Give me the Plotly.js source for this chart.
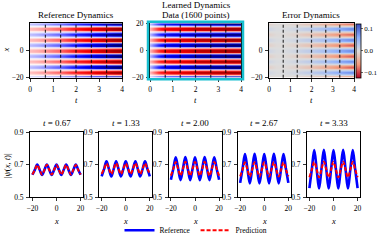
<!DOCTYPE html>
<html><head><meta charset="utf-8">
<script src="https://cdn.plot.ly/plotly-3.0.1.min.js"></script>
<style>html,body{margin:0;padding:0;background:#fff}#chart{width:382px;height:245px}</style>
</head><body><div id="chart"></div>
<script>
// ---- data ----
const snapTimes = [0.67, 1.33, 2.00, 2.67, 3.33];
const xLine = [-20,-18,-16,-14,-12,-10,-8,-6,-4,-2,0,2,4,6,8,10,12,14,16,18,20];
const ref067  = [0.638,0.668,0.700,0.669,0.637,0.668,0.701,0.669,0.637,0.668,0.700,0.668,0.637,0.669,0.701,0.668,0.637,0.668,0.700,0.669,0.638];
const pred067 = [0.640,0.668,0.698,0.669,0.639,0.668,0.699,0.668,0.639,0.668,0.698,0.668,0.639,0.668,0.699,0.668,0.639,0.668,0.698,0.668,0.640];
const ref133  = [0.628,0.673,0.720,0.674,0.627,0.673,0.721,0.673,0.627,0.673,0.720,0.673,0.627,0.674,0.721,0.673,0.627,0.673,0.720,0.673,0.628];
const pred133 = [0.643,0.675,0.708,0.675,0.642,0.675,0.709,0.675,0.642,0.675,0.708,0.675,0.642,0.675,0.709,0.675,0.642,0.675,0.708,0.675,0.643];
const ref200  = [0.607,0.675,0.745,0.676,0.605,0.675,0.746,0.675,0.605,0.675,0.745,0.675,0.605,0.676,0.746,0.675,0.605,0.675,0.745,0.675,0.607];
const pred200 = [0.633,0.675,0.717,0.675,0.632,0.675,0.718,0.675,0.632,0.675,0.717,0.675,0.632,0.675,0.718,0.675,0.632,0.675,0.717,0.675,0.633];
const ref267  = [0.588,0.675,0.765,0.676,0.585,0.675,0.766,0.675,0.585,0.675,0.765,0.675,0.585,0.676,0.766,0.675,0.585,0.675,0.765,0.675,0.588];
const pred267 = [0.628,0.670,0.714,0.671,0.627,0.670,0.715,0.670,0.627,0.670,0.714,0.670,0.627,0.671,0.715,0.670,0.627,0.670,0.714,0.670,0.628];
const ref333  = [0.556,0.672,0.790,0.673,0.553,0.672,0.791,0.672,0.553,0.672,0.790,0.672,0.553,0.673,0.791,0.672,0.553,0.672,0.790,0.672,0.556];
const pred333 = [0.623,0.670,0.717,0.671,0.622,0.670,0.718,0.670,0.622,0.670,0.717,0.670,0.622,0.671,0.718,0.670,0.622,0.670,0.717,0.670,0.623];

// heatmaps: time grid, wave amplitude per time column, one spatial period of the stripe profile
const tHeat = [0, 0.333, 0.667, 1.0, 1.333, 1.667, 2.0, 2.333, 2.667, 3.0, 3.333, 3.667, 4.0];
const refAmp  = [0.020, 0.025, 0.032, 0.040, 0.047, 0.058, 0.070, 0.080, 0.090, 0.103, 0.118, 0.130, 0.140];
const predAmp = [0.008, 0.022, 0.030, 0.033, 0.034, 0.037, 0.042, 0.043, 0.044, 0.045, 0.047, 0.048, 0.048];
const meanLevel = 0.67;
const periodProfile = [-1, -0.71, 0, 0.71, 1, 0.71, 0, -0.71]; // x = -20 ... -13
const xHeat = []; for (let v = -20; v <= 20; v++) xHeat.push(v);

const refZ = xHeat.map((v, i) => refAmp.map(a => meanLevel + a * periodProfile[i % 8]));
const predZ = xHeat.map((v, i) => predAmp.map(a => meanLevel + a * periodProfile[i % 8]));
const errZ = refZ.map((row, i) => row.map((r, j) => r - predZ[i][j]));

const refSeries = [ref067, ref133, ref200, ref267, ref333];
const predSeries = [pred067, pred133, pred200, pred267, pred333];

// ---- styling ----
const FONT = 'Liberation Serif';
const seismic = [[0,'rgb(0,0,77)'],[0.25,'rgb(0,0,255)'],[0.5,'rgb(255,255,255)'],[0.75,'rgb(255,0,0)'],[1,'rgb(128,0,0)']];
const coolwarmR = [[0,'rgb(180,4,38)'],[0.25,'rgb(244,154,123)'],[0.5,'rgb(221,221,221)'],[0.75,'rgb(141,176,254)'],[1,'rgb(59,76,192)']];

const W = 382, H = 245;
const px = v => v / W, py = v => 1 - v / H;

const traces = [];
const refMax = Math.max(...refAmp), predMax = 0.05;
traces.push({type:'heatmap', x:tHeat, y:xHeat, z:refZ, colorscale:seismic, zmin:meanLevel-refMax, zmax:meanLevel+refMax, zsmooth:'best', showscale:false, xaxis:'x', yaxis:'y', hoverinfo:'skip'});
traces.push({type:'heatmap', x:tHeat, y:xHeat, z:predZ, colorscale:seismic, zmin:meanLevel-predMax, zmax:meanLevel+predMax, zsmooth:'best', showscale:false, xaxis:'x2', yaxis:'y2', hoverinfo:'skip'});
traces.push({type:'heatmap', x:tHeat, y:xHeat, z:errZ, colorscale:coolwarmR, zmin:-0.122, zmax:0.122, zsmooth:'best', xaxis:'x3', yaxis:'y3', hoverinfo:'skip',
  colorbar:{x:px(356), xanchor:'left', y:py(52), yanchor:'middle', len:56/H, lenmode:'fraction', thickness:5, thicknessmode:'pixels',
    outlinewidth:0.8, outlinecolor:'#000', tickvals:[-0.1,0,0.1], ticktext:['−0.1','0.0','0.1'], ticks:'outside', ticklen:2, tickwidth:0.8,
    tickfont:{family:FONT,size:7,color:'#000'}, xpad:0, ypad:0}});

for (let k = 0; k < 5; k++) {
  const ax = k + 4;
  traces.push({type:'scatter', mode:'lines', x:xLine, y:refSeries[k], line:{color:'#0000ff', width:2.6, shape:'spline'},
    name:'Reference', showlegend:k===0, legendgroup:'r', xaxis:'x'+ax, yaxis:'y'+ax, hoverinfo:'skip'});
  traces.push({type:'scatter', mode:'lines', x:xLine, y:predSeries[k], line:{color:'#ff0000', width:2, dash:'4px,2px', shape:'spline'},
    name:'Prediction', showlegend:k===0, legendgroup:'p', xaxis:'x'+ax, yaxis:'y'+ax, hoverinfo:'skip'});
}

const tickFont = {family:FONT, size:7.5, color:'#000'};
const baseAx = {showline:true, linecolor:'#000', linewidth:1, mirror:true, ticks:'outside', ticklen:3, tickwidth:0.8, tickcolor:'#000',
  showgrid:false, zeroline:false, tickfont:tickFont, fixedrange:true, ticklabelstandoff:1};

const layout = {width:W, height:H, margin:{l:0,r:0,t:0,b:0}, paper_bgcolor:'#fff', plot_bgcolor:'#fff', font:{family:FONT, color:'#000'},
  showlegend:true,
  legend:{orientation:'h', x:px(196), xanchor:'center', y:py(237), yanchor:'middle', font:{family:FONT, size:7.5, color:'#000'},
    bgcolor:'rgba(0,0,0,0)', itemwidth:30, tracegroupgap:0, traceorder:'normal'},
  annotations:[], shapes:[]};

const titleFont = {family:FONT, size:9, color:'#000'};
const labFont = {family:FONT, size:8.5, color:'#000'};
const ann = (text, x, y, font, angle) => layout.annotations.push({text, xref:'paper', yref:'paper', x:px(x), y:py(y), xanchor:'center', yanchor:'middle', showarrow:false, font:font||titleFont, textangle:angle||0});

const topDom = [[30,122],[150,241],[269,354]];
for (let i = 0; i < 3; i++) {
  const s = i === 0 ? '' : String(i+1);
  layout['xaxis'+s] = Object.assign({}, baseAx, {domain:[px(topDom[i][0]), px(topDom[i][1])], range:[0,4], tickvals:[0,1,2,3,4], anchor:'y'+s});
  layout['yaxis'+s] = Object.assign({}, baseAx, {domain:[py(80), py(24)], range:[-20,20], tickvals: i===1 ? [-20,0,20] : [-20,0], anchor:'x'+s});
  snapTimes.forEach(t => layout.shapes.push({type:'line', xref:'x'+s, yref:'y'+s+' domain', x0:t, x1:t, y0:0, y1:1,
    line:{color:'rgba(0,0,0,0.75)', width:1.2, dash:'3px,2px'}}));
  ann('<i>t</i>', (topDom[i][0]+topDom[i][1])/2, 103, labFont);
}
ann('<i>x</i>', 6, 52, labFont, -90);
// cyan frame around the learned-dynamics panel
layout.shapes.push({type:'rect', xref:'paper', yref:'paper', x0:px(148), x1:px(243), y0:py(81.5), y1:py(22.5), line:{color:'#17becf', width:2.5}, fillcolor:'rgba(0,0,0,0)'});

ann('Reference Dynamics', 76, 15.5);
ann('Learned Dynamics', 196, 5.5);
ann('Data (1600 points)', 196, 15.5);
ann('Error Dynamics', 311, 15.5);

for (let k = 0; k < 5; k++) {
  const ax = k + 4;
  const x0 = 30 + k * 69.25, x1 = x0 + 53;
  layout['xaxis'+ax] = Object.assign({}, baseAx, {domain:[px(x0), px(x1)], range:[-22,22], tickvals:[-20,0,20], anchor:'y'+ax});
  layout['yaxis'+ax] = Object.assign({}, baseAx, {domain:[py(203), py(136)], range:[0.5,0.9], tickvals:[0.5,0.7,0.9], tickformat:'.1f', anchor:'x'+ax});
  ann('<i>t</i> = ' + snapTimes[k].toFixed(2), (x0+x1)/2, 126.5);
  ann('<i>x</i>', (x0+x1)/2, 227, labFont);
}
ann('|<i>ψ</i>(<i>x</i>, <i>t</i>)|', 7, 170, labFont, -90);

Plotly.newPlot('chart', traces, layout, {staticPlot:true, displayModeBar:false});
</script></body></html>
